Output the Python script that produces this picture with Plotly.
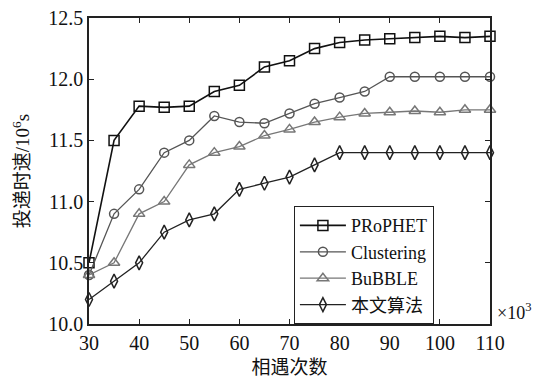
import plotly.graph_objects as go

x_vals = [30, 35, 40, 45, 50, 55, 60, 65, 70, 75, 80, 85, 90, 95, 100, 105, 110]
prophet = [10.5, 11.5, 11.78, 11.77, 11.78, 11.9, 11.95, 12.1, 12.15, 12.25, 12.3, 12.32, 12.33, 12.34, 12.35, 12.34, 12.35]
clustering = [10.4, 10.9, 11.1, 11.4, 11.5, 11.7, 11.65, 11.64, 11.72, 11.8, 11.85, 11.9, 12.02, 12.02, 12.02, 12.02, 12.02]
bubble = [10.4, 10.5, 10.9, 11.0, 11.3, 11.4, 11.45, 11.54, 11.59, 11.65, 11.69, 11.72, 11.73, 11.74, 11.73, 11.75, 11.75]
ours = [10.2, 10.35, 10.5, 10.75, 10.85, 10.9, 11.1, 11.15, 11.2, 11.3, 11.4, 11.4, 11.4, 11.4, 11.4, 11.4, 11.4]

series_names = ["PRoPHET", "Clustering", "BuBBLE", "本文算法"]
x_ticks = [30, 40, 50, 60, 70, 80, 90, 100, 110]
y_ticks = [10.0, 10.5, 11.0, 11.5, 12.0, 12.5]

FONT = "Liberation Serif, Noto Sans CJK SC"

styles = [
    dict(color="#111111", width=1.6, symbol="square-open", size=10),
    dict(color="#555555", width=1.3, symbol="circle-open", size=9),
    dict(color="#777777", width=1.3, symbol="triangle-up-open", size=10),
    dict(color="#222222", width=1.3, symbol="diamond-tall-open", size=10),
]

fig = go.Figure()
for name, ys, st in zip(series_names, [prophet, clustering, bubble, ours], styles):
    fig.add_trace(go.Scatter(
        x=x_vals, y=ys, name=name, mode="lines+markers",
        line=dict(color=st["color"], width=st["width"]),
        marker=dict(symbol=st["symbol"], size=st["size"],
                    color=st["color"], line=dict(color=st["color"], width=1.5)),
        cliponaxis=False,
    ))

axis_common = dict(
    showline=True, linecolor="#222222", linewidth=1.6, mirror="ticks",
    ticks="inside", ticklen=5, tickwidth=1.3, tickcolor="#222222",
    showgrid=False, zeroline=False, automargin=False,
    ticklabeloverflow="allow",
    tickfont=dict(family=FONT, size=20, color="#111111"),
)

fig.update_layout(
    width=532, height=370,
    margin=dict(l=81, r=50, t=10, b=54),
    paper_bgcolor="white", plot_bgcolor="white",
    font=dict(family=FONT, size=19, color="#111111"),
    xaxis=dict(range=[30, 110], tickvals=x_ticks,
               ticktext=[str(v) for v in x_ticks],
               title=dict(text="相遇次数", font=dict(family=FONT, size=19), standoff=12),
               **axis_common),
    yaxis=dict(range=[10.0, 12.5], tickvals=y_ticks,
               ticktext=[f"{v:.1f}" for v in y_ticks],
               title=dict(text="投递时速/10<sup>6</sup>s", font=dict(family=FONT, size=19), standoff=14),
               **axis_common),
    legend=dict(x=0.511, y=0.385, xanchor="left", yanchor="top",
                bgcolor="white", bordercolor="#222222", borderwidth=1,
                font=dict(family=FONT, size=18), tracegroupgap=0,
                itemwidth=46, entrywidth=140, entrywidthmode="pixels"),
    showlegend=True,
    annotations=[dict(text="×10<sup>3</sup>", x=1.012, y=0.04, xref="paper", yref="paper",
                      xanchor="left", yanchor="middle", showarrow=False,
                      font=dict(family=FONT, size=18))],
)

fig.write_html("out.html")
